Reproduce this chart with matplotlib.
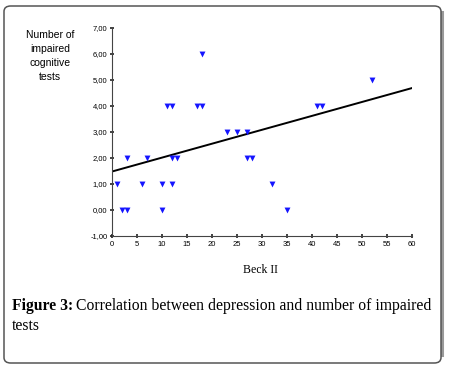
import numpy as np
import matplotlib
matplotlib.use("Agg")
import matplotlib.pyplot as plt
from matplotlib.patches import FancyBboxPatch

beck = [1, 2, 3, 3, 6, 7, 10, 10, 11, 12, 12, 12, 13, 17, 18, 18, 23, 25, 27, 27, 28, 32, 35, 41, 42, 52]
impaired = [1, 0, 0, 2, 1, 2, 1, 0, 4, 4, 2, 1, 2, 4, 4, 6, 3, 3, 3, 2, 2, 1, 0, 4, 4, 5]
x_ticks = list(range(0, 61, 5))
y_ticks = [-1, 0, 1, 2, 3, 4, 5, 6, 7]
y_ticklabels = ["-1,00", "0,00", "1,00", "2,00", "3,00", "4,00", "5,00", "6,00", "7,00"]
fit_intercept = 1.48
fit_end = 4.69

W, H = 449, 367
fig = plt.figure(figsize=(W / 100, H / 100), dpi=100)

# border box
box = FancyBboxPatch((4 / W, 4 / H), 437 / W, 357 / H,
                     boxstyle="round,pad=0,rounding_size=0.015",
                     transform=fig.transFigure, facecolor="none",
                     edgecolor="#555555", linewidth=1.1, zorder=-1)
fig.patches.append(box)
fig.add_artist(plt.Line2D([442 / W, 442 / W], [12 / H, 1 - 12 / H], transform=fig.transFigure,
                          color="#999999", lw=2.2, zorder=-2))

ax = fig.add_axes([112 / W, 1 - 236 / H, 300 / W, 208 / H])
ax.patch.set_alpha(0)
ax.set_xlim(0, 60)
ax.set_ylim(-1, 7)
ax.scatter(beck, impaired, marker="v", s=18, color="#1515ff", zorder=3, linewidths=0,
           clip_on=False)
xs = np.array([0, 60])
ax.plot(xs, fit_intercept + (fit_end - fit_intercept) / 60 * xs, color="black", lw=1.4, zorder=2)

for s in ["top", "right"]:
    ax.spines[s].set_visible(False)
for s in ["left", "bottom"]:
    ax.spines[s].set_color("#444444")
    ax.spines[s].set_linewidth(0.8)
ax.set_xticks(x_ticks)
ax.set_xticklabels([str(v) for v in x_ticks], fontsize=5.5, family="Liberation Sans")
ax.set_yticks(y_ticks)
ax.set_yticklabels(y_ticklabels, fontsize=5.5, family="Liberation Sans")
ax.tick_params(axis="both", direction="inout", length=2.5, width=1.2, color="#222222", pad=2)

fig.text(50 / W, 1 - 56 / H, "Number of\nimpaired\ncognitive\ntests", ha="center", va="center",
         fontsize=7.5, family="Liberation Sans", linespacing=1.5)
fig.text(260 / W, 1 - 270 / H, "Beck II", ha="center", va="center",
         fontsize=8.5, family="Liberation Serif")
t1 = fig.text(12 / W, 1 - 306 / H, "Figure 3:", ha="left", va="center",
              fontsize=11.3, family="Liberation Serif", weight="bold")
fig.canvas.draw()
bb = t1.get_window_extent()
fig.text((bb.x1 + 3) / W, 1 - 306 / H, "Correlation between depression and number of impaired",
         ha="left", va="center", fontsize=11.3, family="Liberation Serif")
fig.text(12 / W, 1 - 326 / H, "tests", ha="left", va="center",
         fontsize=11.3, family="Liberation Serif")

fig.savefig("out.png", dpi=100)
